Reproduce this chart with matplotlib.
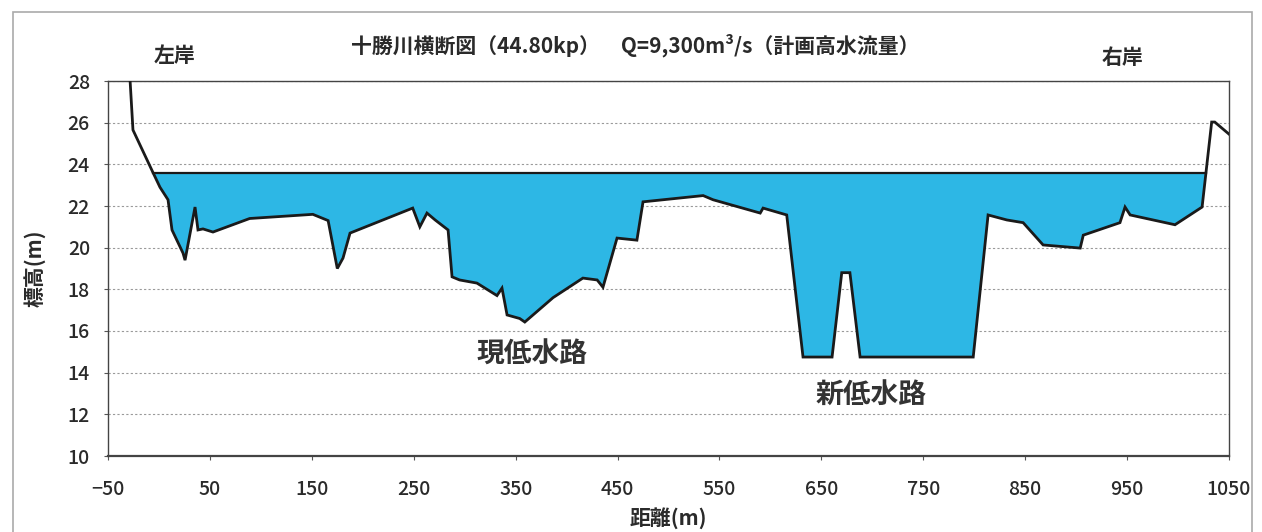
import numpy as np
import matplotlib
matplotlib.use("Agg")
import matplotlib.pyplot as plt
from matplotlib.patches import Rectangle

plt.rcParams['font.family'] = ['Noto Sans CJK JP', 'DejaVu Sans']

# Cross-section data (distance m, elevation m)
dist = [-29.5, -25.5, -5.8, 1.0, 8.9, 12.8, 23.6, 25.6, 35.4, 38.3, 43.2, 53, 89, 151, 166,
        175, 180.6, 187.5, 249, 256, 263, 271, 283.7, 287.6, 295, 312, 331.7, 336.6,
        341.6, 354, 359, 386.7, 416, 430, 435.7, 449.5, 469, 475, 534, 543.7, 590,
        592.8, 616, 632, 660.5, 670, 678, 688, 799, 813.6, 832, 848, 867.6, 904, 907,
        943, 948, 953, 997, 1023.6, 1033, 1036, 1050]
elev = [29.0, 25.65, 23.6, 22.9, 22.3, 20.85, 19.74, 19.4, 21.95, 20.85, 20.9, 20.75, 21.4,
        21.6, 21.3, 19.0, 19.5, 20.7, 21.9, 21.0, 21.66, 21.33, 20.85, 18.6, 18.45, 18.3,
        17.7, 18.06, 16.77, 16.6, 16.43, 17.6, 18.54, 18.45, 18.1, 20.46, 20.36, 22.2,
        22.5, 22.3, 21.66, 21.9, 21.57, 14.75, 14.75, 18.8, 18.8, 14.75, 14.75, 21.57,
        21.33, 21.2, 20.13, 19.98, 20.6, 21.2, 21.95, 21.57, 21.1, 21.95, 26.03, 26.03,
        25.45]
water_level = 23.6

title = "十勝川横断図（44.80kp）　Q=9,300m³/s（計画高水流量）"
xticks = [-50, 50, 150, 250, 350, 450, 550, 650, 750, 850, 950, 1050]
yticks = [10, 12, 14, 16, 18, 20, 22, 24, 26, 28]

x = np.array(dist, dtype=float)
y = np.array(elev, dtype=float)

TXT = '#2a2a2a'

fig = plt.figure(figsize=(12.62, 5.32), dpi=100)
ax = fig.add_axes([108/1262, 1-456/532, (1229-108)/1262, (456-81)/532])

wl = np.full_like(x, water_level)
ax.fill_between(x, y, wl, where=y < wl, interpolate=True, color='#2db7e5', lw=0, zorder=2)

# water surface line between bank intersections
wet = np.where(y < water_level)[0]
def cross(i0, i1):
    return x[i0] + (water_level - y[i0]) * (x[i1] - x[i0]) / (y[i1] - y[i0])
xl = cross(wet[0]-1, wet[0]) if y[wet[0]-1] != water_level else x[wet[0]-1]
xr = cross(wet[-1], wet[-1]+1)
ax.plot([xl, xr], [water_level, water_level], color='#1a1a1a', lw=1.6, zorder=3)

ax.plot(x, y, color='#1a1a1a', lw=2.0, zorder=4, solid_joinstyle='miter')

ax.set_xlim(-50, 1050)
ax.set_ylim(10, 28)
ax.set_xticks(xticks)
ax.set_yticks(yticks)
ax.tick_params(axis='x', labelsize=14, colors='#555555', length=3, width=0.8, pad=14)
ax.tick_params(axis='y', labelsize=14, colors='#555555', length=3, width=0.8, pad=10)
for t in ax.get_xticklabels() + ax.get_yticklabels():
    t.set_color(TXT)
    t.set_fontweight('medium')
ax.yaxis.grid(True, color='#9a9a9a', linestyle=(0, (2, 2)), lw=0.8, zorder=1)
for s in ax.spines.values():
    s.set_color('#444444')
    s.set_linewidth(1.0)
ax.spines['bottom'].set_linewidth(1.6)

ax.set_xlabel("距離(m)", fontsize=15, color=TXT, fontweight='bold', labelpad=6)
ax.set_ylabel("標高(m)", fontsize=15, color=TXT, fontweight='bold', labelpad=16)

fig.text(0.503, 1-45/532, title, ha='center', va='center', fontsize=15,
         color=TXT, fontweight='bold')
fig.text(175/1262, 1-55/532, "左岸", ha='center', va='center', fontsize=15,
         color=TXT, fontweight='bold')
fig.text(1122/1262, 1-58/532, "右岸", ha='center', va='center', fontsize=15,
         color=TXT, fontweight='bold')

ax.text(366, 14.85, "現低水路", ha='center', va='center', fontsize=20,
        color='#333333', fontweight='bold', zorder=5)
ax.text(699, 12.9, "新低水路", ha='center', va='center', fontsize=20,
        color='#333333', fontweight='bold', zorder=5)

# outer frame
fig.patches.append(Rectangle((13/1262, -0.05), (1252-13)/1262, 1-12/532+0.05,
                             transform=fig.transFigure, fill=False,
                             edgecolor='#aaaaaa', lw=1.2))

fig.savefig("out.png", dpi=100)
